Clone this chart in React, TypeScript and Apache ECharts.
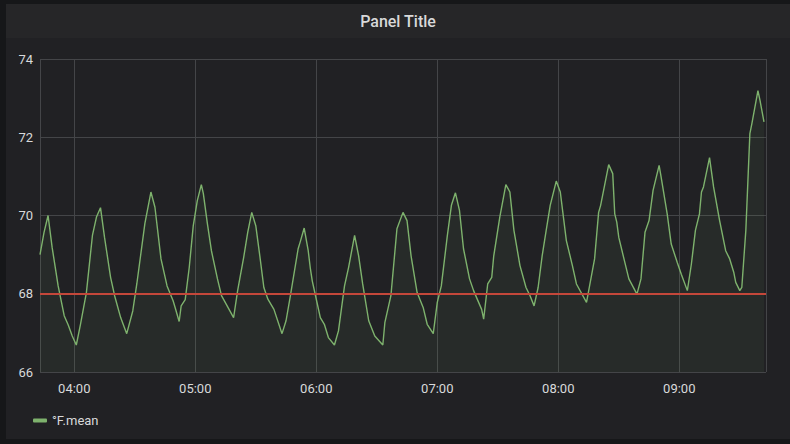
import React, { useEffect, useRef } from "react";
import * as echarts from "echarts";

const seriesName = "°F.mean";
const panelTitle = "Panel Title";
const axisStart = "03:43";
const axisEnd = "09:43";
const thresholdValue = 68;
const yMin = 66;
const yMax = 74;
const yStep = 2;

const times = [
  "03:43", "03:45", "03:47", "03:49", "03:52", "03:55", "03:57", "03:59", "04:01", "04:03",
  "04:06", "04:09", "04:11", "04:13", "04:15", "04:18", "04:20", "04:23", "04:26", "04:29",
  "04:31", "04:35", "04:38", "04:40", "04:43", "04:46", "04:49", "04:50", "04:52", "04:53",
  "04:55", "04:57", "04:59", "05:01", "05:03", "05:04", "05:06", "05:08", "05:11", "05:13",
  "05:19", "05:21", "05:24", "05:26", "05:28", "05:30", "05:32", "05:34", "05:36", "05:39",
  "05:43", "05:45", "05:47", "05:51", "05:52", "05:54", "05:56", "05:57", "05:58", "06:00",
  "06:02", "06:04", "06:06", "06:09", "06:11", "06:14", "06:16", "06:19", "06:21", "06:23",
  "06:26", "06:29", "06:33", "06:34", "06:37", "06:40", "06:43", "06:45", "06:47", "06:50",
  "06:53", "06:55", "06:58", "07:00", "07:02", "07:05", "07:07", "07:09", "07:11", "07:13",
  "07:16", "07:18", "07:22", "07:23", "07:25", "07:27", "07:28", "07:31", "07:34", "07:36",
  "07:38", "07:41", "07:44", "07:46", "07:48", "07:50", "07:52", "07:54", "07:56", "07:59",
  "08:01", "08:04", "08:07", "08:09", "08:14", "08:18", "08:20", "08:21", "08:25", "08:27",
  "08:28", "08:29", "08:30", "08:33", "08:35", "08:39", "08:41", "08:43", "08:45", "08:47",
  "08:50", "08:51", "08:54", "08:56", "08:59", "09:01", "09:04", "09:06", "09:08", "09:10",
  "09:11", "09:12", "09:15", "09:17", "09:20", "09:23", "09:25", "09:27", "09:28", "09:30",
  "09:31", "09:33", "09:35", "09:36", "09:39", "09:40", "09:42",
];

const values = [
  69.0, 69.57, 70.0, 69.19, 68.2, 67.44, 67.2, 66.92, 66.69, 67.2,
  68.03, 69.49, 69.96, 70.2, 69.44, 68.42, 67.95, 67.39, 66.98, 67.56,
  68.25, 69.79, 70.6, 70.21, 68.89, 68.2, 67.82, 67.65, 67.29, 67.69,
  67.85, 68.67, 69.74, 70.38, 70.79, 70.56, 69.79, 69.1, 68.38, 67.95,
  67.39, 68.08, 68.93, 69.57, 70.08, 69.74, 68.97, 68.16, 67.86, 67.6,
  66.98, 67.31, 67.9, 69.15, 69.32, 69.68, 69.1, 68.67, 68.33, 67.86,
  67.39, 67.22, 66.88, 66.69, 67.05, 68.2, 68.67, 69.49, 68.97, 68.25,
  67.31, 66.92, 66.69, 67.26, 67.95, 69.66, 70.08, 69.87, 68.97, 68.03,
  67.65, 67.22, 66.98, 67.78, 68.2, 69.49, 70.26, 70.58, 70.13, 69.15,
  68.38, 68.08, 67.6, 67.35, 68.25, 68.42, 68.97, 69.96, 70.79, 70.6,
  69.62, 68.72, 68.16, 67.95, 67.69, 68.16, 68.97, 69.62, 70.26, 70.88,
  70.6, 69.36, 68.72, 68.25, 67.78, 68.89, 70.08, 70.26, 71.3, 71.07,
  70.04, 69.83, 69.44, 68.8, 68.38, 67.99, 68.38, 69.57, 69.87, 70.64,
  71.28, 70.98, 70.04, 69.27, 68.8, 68.5, 68.08, 68.76, 69.62, 70.04,
  70.6, 70.73, 71.48, 70.73, 69.87, 69.1, 68.89, 68.55, 68.29, 68.08,
  68.16, 69.62, 72.09, 72.35, 73.19, 72.95, 72.39,
];

function toDate(hm: string): number {
  const [h, m] = hm.split(":").map(Number);
  return new Date(2020, 0, 1, h, m, 0).getTime();
}

function pad(n: number): string {
  return n < 10 ? "0" + n : String(n);
}

export default function App() {
  const ref = useRef<HTMLDivElement>(null);

  useEffect(() => {
    if (!ref.current) return;
    const chart = echarts.init(ref.current, undefined, { renderer: "svg" });
    const data = times.map((t, i) => [toDate(t), values[i]]);
    const textColor = "#d8d9da";
    const gridColor = "#444548";

    chart.setOption({
      animation: false,
      backgroundColor: "transparent",
      graphic: [
        {
          type: "text",
          x: 398,
          y: 21,
          style: {
            text: panelTitle,
            fill: textColor,
            font: "500 16px Roboto",
            textAlign: "center",
            textVerticalAlign: "middle",
          },
        },
      ],
      grid: { left: 40, right: 24, top: 59, bottom: 72, containLabel: false },
      legend: {
        show: true,
        left: 28,
        top: 409,
        icon: "roundRect",
        itemWidth: 14,
        itemHeight: 4,
        textStyle: { color: textColor, fontSize: 13, fontFamily: "Roboto" },
        data: [seriesName],
      },
      xAxis: {
        type: "time",
        min: toDate(axisStart),
        max: toDate(axisEnd),
        splitNumber: 6,
        minInterval: 3600 * 1000,
        maxInterval: 3600 * 1000,
        axisLine: { show: false },
        axisTick: { show: false },
        axisLabel: {
          color: textColor,
          fontSize: 13,
          fontFamily: "Roboto",
          margin: 10,
          formatter: (v: number) => {
            const d = new Date(v);
            if (d.getMinutes() !== 0) return "";
            return pad(d.getHours()) + ":" + pad(d.getMinutes());
          },
        },
        splitLine: { show: true, lineStyle: { color: gridColor, width: 1 } },
      },
      yAxis: {
        type: "value",
        min: yMin,
        max: yMax,
        interval: yStep,
        axisLine: { show: false },
        axisTick: { show: false },
        axisLabel: { color: textColor, fontSize: 13, fontFamily: "Roboto", margin: 7 },
        splitLine: { show: true, lineStyle: { color: gridColor, width: 1 } },
      },
      series: [
        {
          name: seriesName,
          type: "line",
          data,
          showSymbol: false,
          symbol: "none",
          color: "#7eb26d",
          lineStyle: { color: "#7eb26d", width: 1.4 },
          areaStyle: { color: "rgba(126,178,109,0.1)" },
          markLine: {
            silent: true,
            symbol: "none",
            label: { show: false },
            lineStyle: { color: "#c4473a", width: 2, type: "solid" },
            data: [{ yAxis: thresholdValue }],
          },
        },
      ],
    });

    return () => chart.dispose();
  }, []);

  return (
    <div
      style={{
        position: "fixed",
        left: 0,
        top: 0,
        width: 790,
        height: 444,
        background: "#161719",
        overflow: "hidden",
      }}
    >
      <div
        style={{
          position: "absolute",
          left: 6,
          top: 4,
          width: 784,
          height: 435,
          background: "#212124",
        }}
      />
      <div
        style={{
          position: "absolute",
          left: 6,
          top: 4,
          width: 784,
          height: 34,
          background: "#262628",
        }}
      />
      <div ref={ref} style={{ position: "absolute", left: 0, top: 0, width: 790, height: 444 }} />
    </div>
  );
}
